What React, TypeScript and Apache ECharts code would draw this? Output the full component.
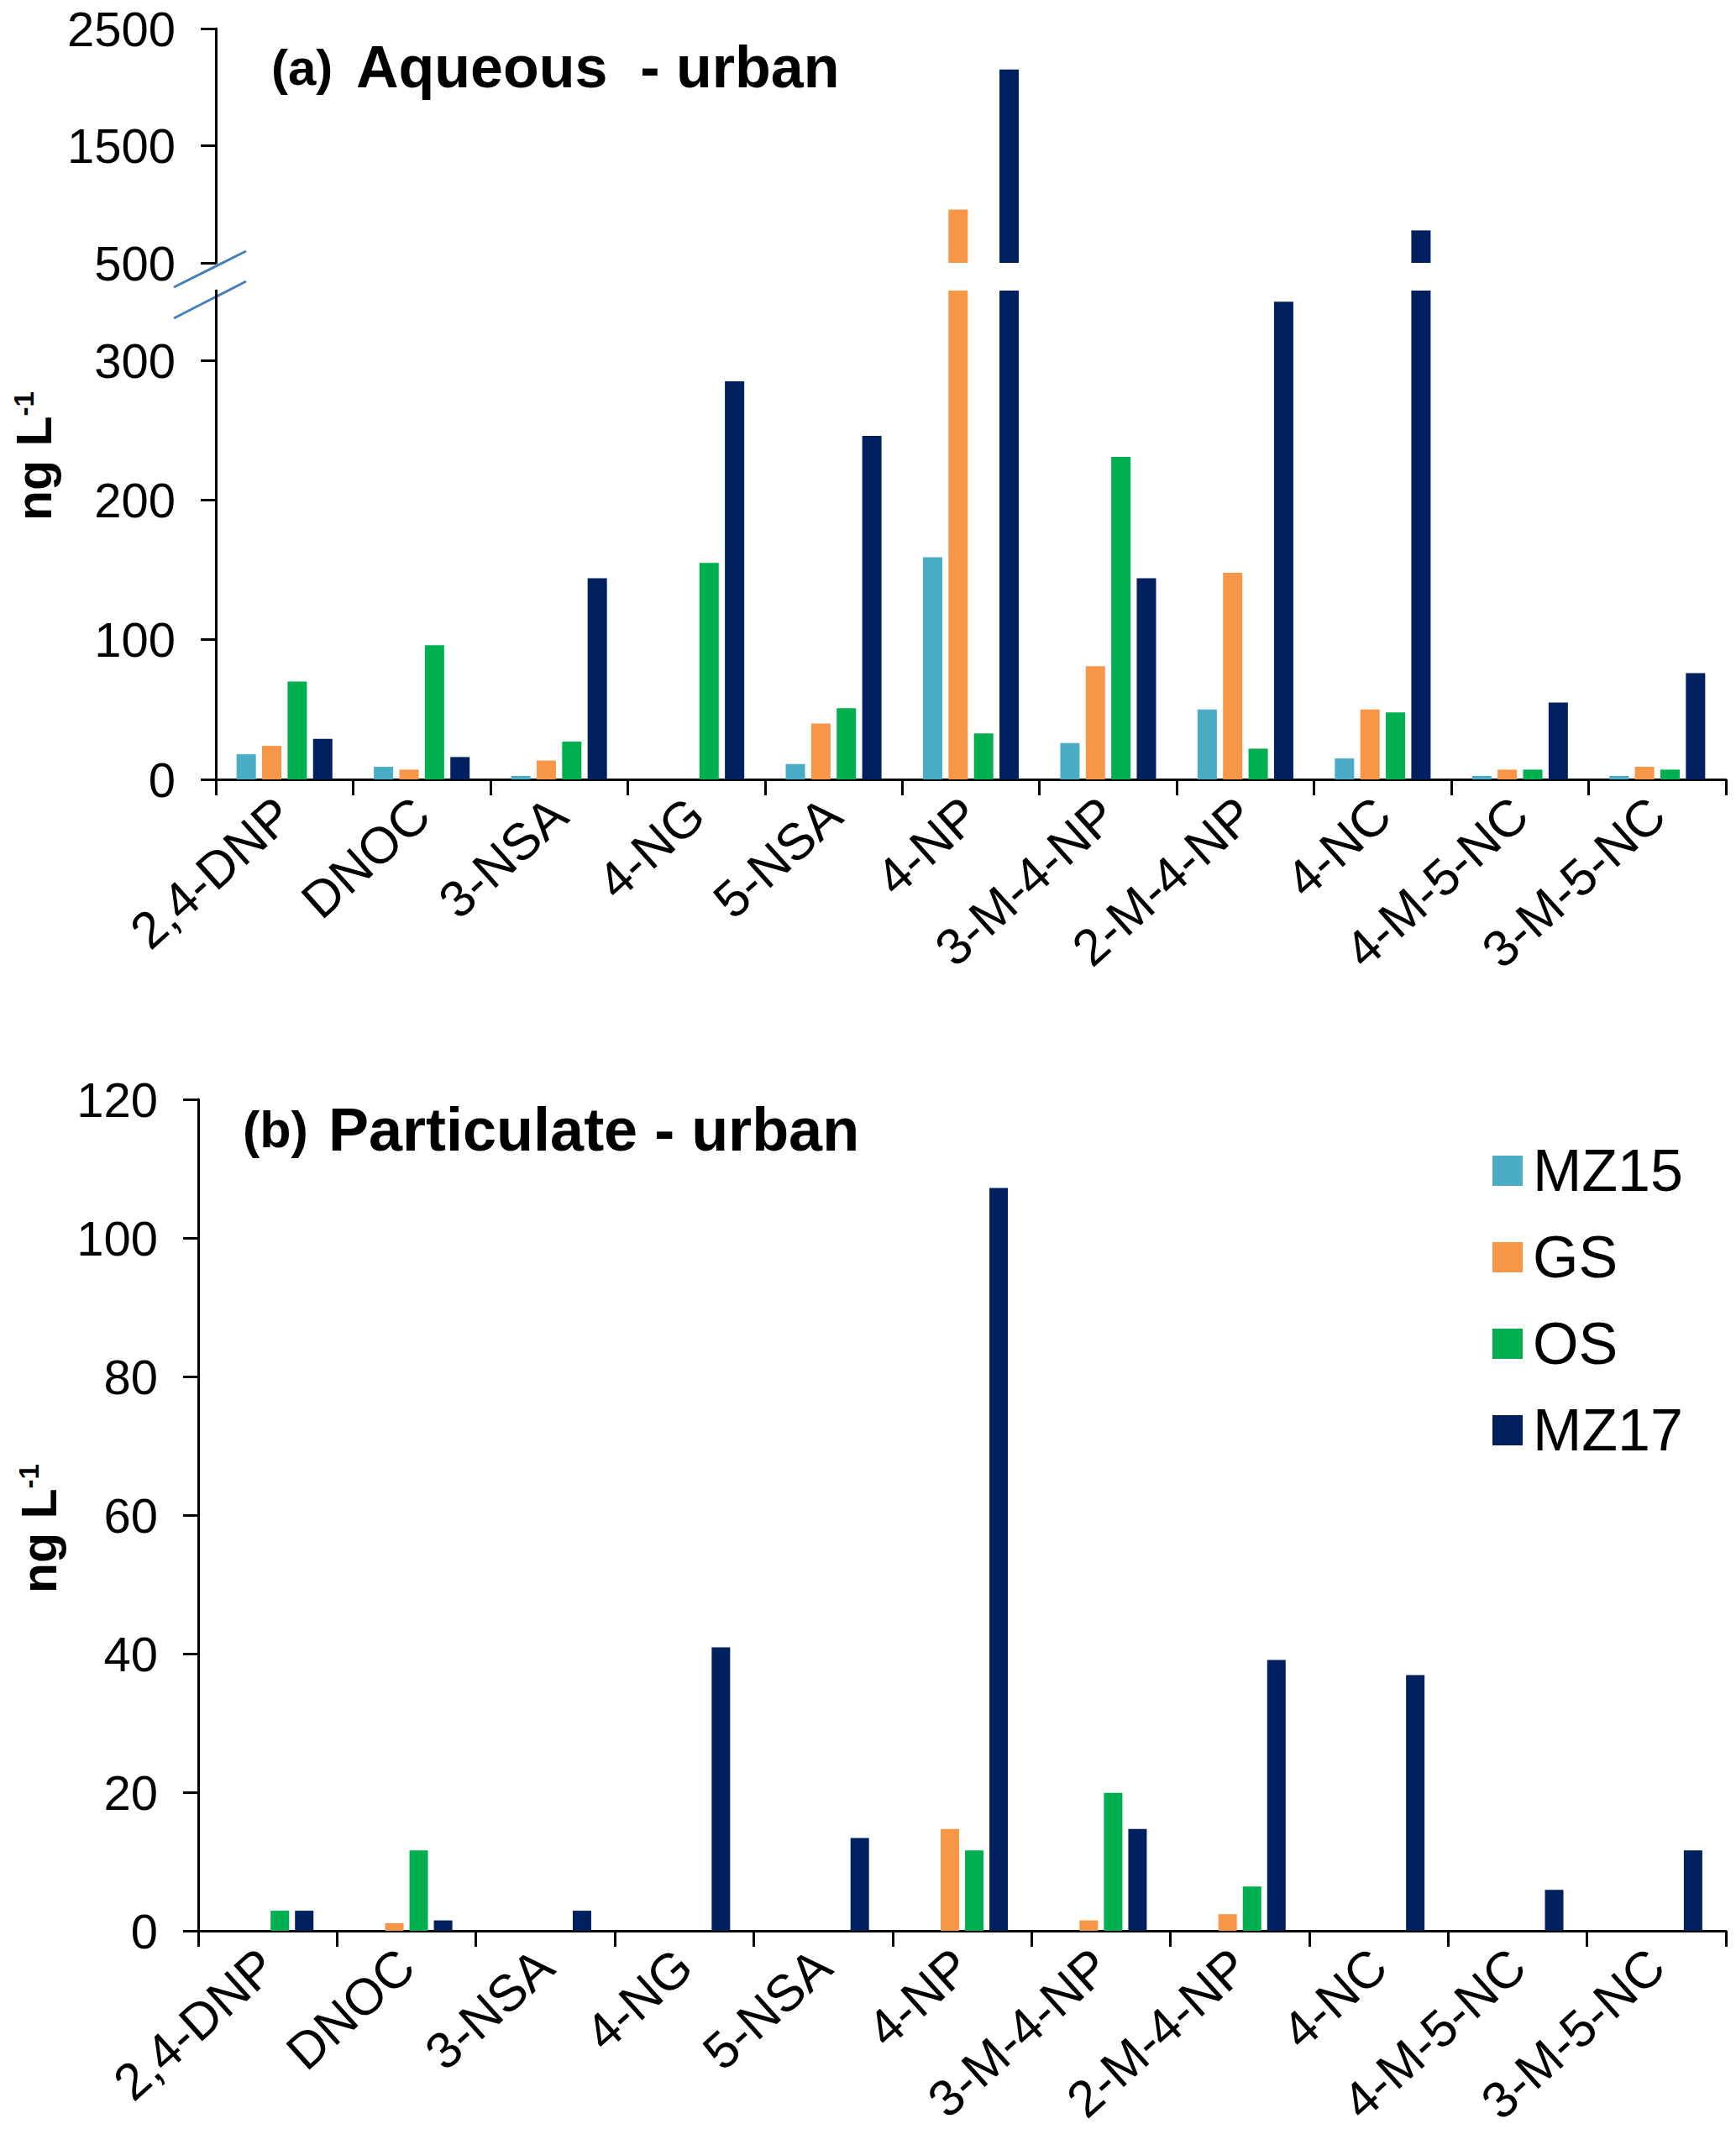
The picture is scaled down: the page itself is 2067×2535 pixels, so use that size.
import React, { useEffect, useRef } from 'react';
import * as echarts from 'echarts';

const categories = ['2,4-DNP', 'DNOC', '3-NSA', '4-NG', '5-NSA', '4-NP', '3-M-4-NP', '2-M-4-NP', '4-NC', '4-M-5-NC', '3-M-5-NC'];
const seriesNames = ['MZ15', 'GS', 'OS', 'MZ17'];
const seriesColors = ['#4BACC6', '#F79646', '#00B050', '#002060'];

// (a) Aqueous - urban, ng L-1
const aqueousMZ15 = [18, 9, 2.5, null, 11, 159, 26, 50, 15, 2.5, 2.5];
const aqueousGS = [24, 7, 13.5, null, 40, 955, 81, 148, 50, 7, 9];
const aqueousOS = [70, 96, 27, 155, 51, 33, 231, 22, 48, 7, 7];
const aqueousMZ17 = [29, 16, 144, 285, 246, 2151, 144, 342, 777, 55, 76];

// (b) Particulate - urban, ng L-1
const particulateMZ15 = [null, null, null, null, null, null, null, null, null, null, null];
const particulateGS = [null, 1.1, null, null, null, 14.7, 1.5, 2.4, null, null, null];
const particulateOS = [2.9, 11.6, null, null, null, 11.6, 19.9, 6.4, null, null, null];
const particulateMZ17 = [2.9, 1.5, 2.9, 40.9, 13.4, 107.2, 14.7, 39.1, 36.9, 5.9, 11.6];

const upperTicks = [500, 1500, 2500];
const lowerTicks = [0, 100, 200, 300];
const breakLow = 350;
const breakHigh = 500;

const FONT = "'Liberation Sans', Arial, sans-serif";

export default function App() {
  const ref = useRef<HTMLDivElement>(null);
  useEffect(() => {
    const chart = echarts.init(ref.current as HTMLDivElement, null, { renderer: 'svg' });
    const aqueous = [aqueousMZ15, aqueousGS, aqueousOS, aqueousMZ17];
    const particulate = [particulateMZ15, particulateGS, particulateOS, particulateMZ17];

    const axisLine = { show: true, lineStyle: { color: '#000', width: 3 } };
    const xAxisBase = (gridIndex: number) => ({
      type: 'category',
      gridIndex,
      data: categories,
      axisLine: { ...axisLine, onZero: false },
      axisTick: { show: true, length: 19, lineStyle: { color: '#000', width: 3 } },
      axisLabel: { interval: 0, rotate: 42, fontSize: 61, color: '#000', margin: 33, fontFamily: FONT },
      splitLine: { show: false },
    });
    const yLabel = { fontSize: 58, lineHeight: 50, color: '#000', margin: 48, fontFamily: FONT, formatter: (v: number) => String(v) };
    const yAxisBase = (gridIndex: number) => ({
      type: 'value',
      gridIndex,
      axisLine,
      axisTick: { show: true, length: 18, lineStyle: { color: '#000', width: 3 } },
      axisLabel: yLabel,
      splitLine: { show: false },
    });

    const series: any[] = [];
    seriesNames.forEach((name, i) => {
      series.push({
        name,
        type: 'bar',
        xAxisIndex: 0,
        yAxisIndex: 0,
        barWidth: 23,
        barGap: '32%',
        itemStyle: { color: seriesColors[i] },
        data: aqueous[i].map((v) => (v != null && v > breakHigh ? v : null)),
      });
    });
    seriesNames.forEach((name, i) => {
      series.push({
        name,
        type: 'bar',
        xAxisIndex: 1,
        yAxisIndex: 1,
        barWidth: 23,
        barGap: '32%',
        clip: true,
        itemStyle: { color: seriesColors[i] },
        data: aqueous[i],
      });
    });
    seriesNames.forEach((name, i) => {
      series.push({
        name,
        type: 'bar',
        xAxisIndex: 2,
        yAxisIndex: 2,
        barWidth: 22,
        barGap: '32%',
        itemStyle: { color: seriesColors[i] },
        data: particulate[i],
      });
    });

    const yTitle = (x: number, y: number) => ({
      type: 'text',
      x,
      y,
      rotation: Math.PI / 2,
      style: {
        text: '{a|ng L}{b|-1}',
        align: 'center',
        verticalAlign: 'middle',
        fill: '#000',
        rich: {
          a: { fontSize: 59, fontWeight: 'bold', fontFamily: FONT, fill: '#000', lineHeight: 59 },
          b: { fontSize: 33, fontWeight: 'bold', fontFamily: FONT, fill: '#000', verticalAlign: 'top', lineHeight: 33 },
        },
      },
    });

    const titleText = (x: number, y: number, text: string, size: number) => ({
      type: 'text',
      x,
      y,
      style: { text, fontSize: size, fontWeight: 'bold', fontFamily: FONT, fill: '#000', verticalAlign: 'middle', align: 'left' },
    });

    const option: any = {
      animation: false,
      backgroundColor: '#fff',
      grid: [
        { left: 257, top: 34, width: 1798, height: 279, outerBoundsMode: 'none' },
        { left: 257, top: 346, width: 1798, height: 582, outerBoundsMode: 'none' },
        { left: 236, top: 1309, width: 1819, height: 990, outerBoundsMode: 'none' },
      ],
      xAxis: [
        { ...xAxisBase(0), show: false },
        xAxisBase(1),
        xAxisBase(2),
      ],
      yAxis: [
        {
          ...yAxisBase(0),
          min: breakHigh,
          max: 2500,
          axisLabel: { ...yLabel, customValues: upperTicks },
          axisTick: { ...yAxisBase(0).axisTick, customValues: upperTicks },
        },
        {
          ...yAxisBase(1),
          min: 0,
          max: breakLow,
          axisLabel: { ...yLabel, customValues: lowerTicks },
          axisTick: { ...yAxisBase(1).axisTick, customValues: lowerTicks },
        },
        { ...yAxisBase(2), min: 0, max: 120, interval: 20 },
      ],
      legend: {
        data: seriesNames,
        orient: 'vertical',
        left: 1772,
        top: 1354,
        icon: 'rect',
        itemWidth: 36,
        itemHeight: 36,
        itemGap: 33,
        textStyle: { fontSize: 70, lineHeight: 70, color: '#000', fontFamily: FONT, padding: [0, 0, 0, 7] },
      },
      graphic: [
        titleText(323, 80, '(a)', 60),
        titleText(424, 80, 'Aqueous  - urban', 70),
        titleText(289, 1345, '(b)', 61),
        titleText(391, 1345, 'Particulate - urban', 72),
        yTitle(41, 543),
        yTitle(47, 1820),
        { type: 'line', shape: { x1: 207, y1: 342, x2: 293, y2: 299 }, style: { stroke: '#4A7EBB', lineWidth: 3 } },
        { type: 'line', shape: { x1: 207, y1: 379, x2: 293, y2: 335 }, style: { stroke: '#4A7EBB', lineWidth: 3 } },
      ],
      series,
    };
    chart.setOption(option);
    return () => chart.dispose();
  }, []);
  return (
    <div
      ref={ref}
      style={{ position: 'absolute', left: 0, top: 0, width: 2067, height: 2535, background: '#fff' }}
    />
  );
}
